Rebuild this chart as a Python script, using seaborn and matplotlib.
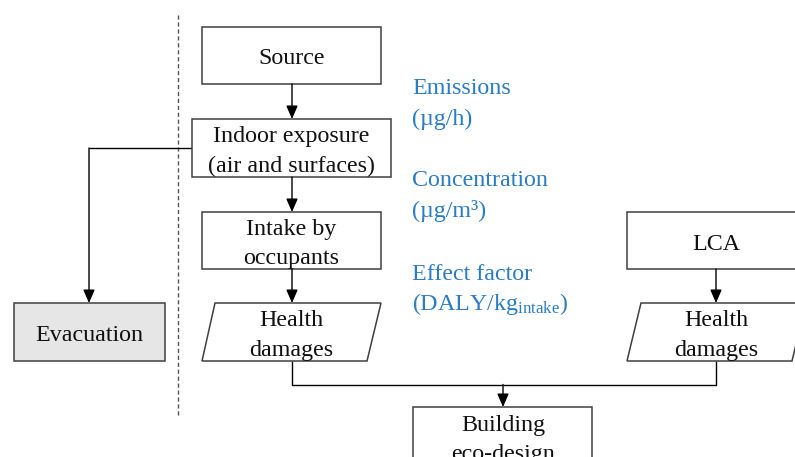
import matplotlib
matplotlib.use("Agg")
import matplotlib.pyplot as plt
import seaborn as sns
from matplotlib.patches import Rectangle, Polygon

sns.set_theme(style="white")
plt.rcParams['font.family'] = ['Liberation Serif', 'DejaVu Serif']
plt.rcParams['mathtext.fontset'] = 'custom'
plt.rcParams['mathtext.rm'] = 'Liberation Serif'
plt.rcParams['mathtext.it'] = 'Liberation Serif:italic'

# ---- text content ----
box_labels = ["Source", "Indoor exposure\n(air and surfaces)", "Intake by\noccupants",
              "Health\ndamages", "Evacuation", "LCA", "Health\ndamages", "Building\neco-design"]
side_labels = ["Emissions", "(\u00b5g/h)", "Concentration", "(\u00b5g/m\u00b3)",
               "Effect factor", r"(DALY/kg$_{\mathrm{intake}}$)"]

W, H = 795, 457
fig = plt.figure(figsize=(W / 100, H / 100), dpi=100)
ax = fig.add_axes([0, 0, 1, 1])
ax.set_xlim(0, W)
ax.set_ylim(H, 0)
ax.axis("off")

EDGE = "#404040"
FS = 17.3
BLUE = "#2a7cc6"
LS = 29.5   # line spacing (px)
DY = 3.0    # vertical text correction (px)


def rect(x0, y0, x1, y1, fc="white"):
    ax.add_patch(Rectangle((x0, y0), x1 - x0, y1 - y0, fc=fc, ec=EDGE, lw=1.1, zorder=2))


def para(xb0, xb1, xt0, xt1, y0, y1):
    ax.add_patch(Polygon([(xt0, y0), (xt1, y0), (xb1, y1), (xb0, y1)], closed=True,
                         fc="white", ec=EDGE, lw=1.1, zorder=2))


def label(text, cx, y_first, color="#111111"):
    for i, ln in enumerate(text.split("\n")):
        ax.text(cx, y_first + i * LS + DY, ln, ha="center", va="center",
                fontsize=FS, color=color, zorder=4)


def arrow(x0, y0, x1, y1):
    ax.annotate("", xy=(x1, y1), xytext=(x0, y0),
                arrowprops=dict(arrowstyle="-|>,head_length=0.8,head_width=0.35",
                                color="black", lw=1.0, shrinkA=0, shrinkB=0,
                                mutation_scale=10), zorder=3)


def line(xs, ys):
    ax.plot(xs, ys, color="black", lw=1.0, zorder=1, solid_capstyle="butt")


# dashed divider
ax.plot([178, 178], [15, 416], color="#555555", lw=1.0, ls=(0, (3, 2)), zorder=1)

# boxes
rect(202, 27, 381, 84)
label(box_labels[0], 292, 56)

rect(192, 119, 391, 177)
label(box_labels[1], 291.5, 133.5)

rect(202, 212, 381, 269)
label(box_labels[2], 291.5, 226)

para(202, 367, 215, 381, 303, 361)
label(box_labels[3], 291.5, 318)

rect(14, 303, 165, 361, fc="#e6e6e6")
label(box_labels[4], 89.5, 332.5)

rect(627, 212, 796, 269)
label(box_labels[5], 716, 241)

para(627, 792, 641, 806, 303, 361)
label(box_labels[6], 716, 318)

rect(413, 407, 592, 470)
label(box_labels[7], 503, 422)

# connectors
arrow(292, 84, 292, 119)
arrow(292, 177, 292, 212)
arrow(292, 269, 292, 303)
line([192, 89], [148, 148])
arrow(89, 148, 89, 303)
arrow(716, 269, 716, 303)
line([292, 292, 716, 716], [361, 384.5, 384.5, 361])
arrow(503, 384.5, 503, 407)

# side annotations
side_y = [86, 116, 178, 208, 271, 301]
for txt, yy in zip(side_labels, side_y):
    ax.text(412, yy + DY, txt, ha="left", va="center", fontsize=FS, color=BLUE, zorder=4)

fig.savefig("out.png", dpi=100)
